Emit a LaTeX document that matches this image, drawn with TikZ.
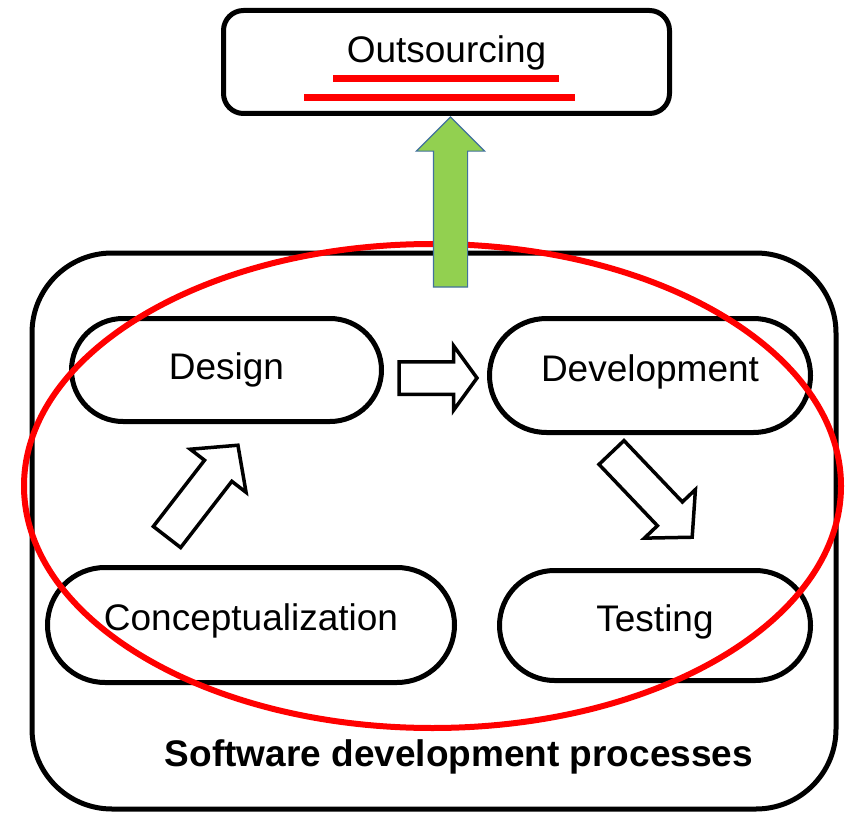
\documentclass[tikz,border=0pt]{standalone}
\usepackage{fontspec}
\setmainfont{Liberation Sans}
\usetikzlibrary{shapes.arrows,calc}

\definecolor{arrowgreen}{HTML}{92D050}
\definecolor{arrowblue}{HTML}{41719C}

\begin{document}
\begin{tikzpicture}[x=1pt,y=-1pt,font=\fontsize{37}{44}\selectfont]
	\useasboundingbox (0,0) rectangle (846,813);

	% outer frame and its caption
	\node[draw,line width=5pt,rounded corners=80pt,minimum width=804pt,minimum height=556pt] (sdp) at (434,531) {};
	\node[font=\fontsize{37}{44}\selectfont\bfseries,anchor=base] (sdplabel) at (459,766) {Software development processes};

	\begin{scope}[every node/.style={rectangle,draw,line width=5pt,text height=26.6pt,text depth=15pt}]
		\node[minimum width=310pt,minimum height=103pt,rounded corners=51.5pt,text depth=7pt] (design) at (226.5,370) {Design};
		\node[minimum width=321pt,minimum height=114pt,rounded corners=57pt] (devel) at (650,375.5) {Development};
		\node[minimum width=407pt,minimum height=115pt,rounded corners=57.5pt] (concept) at (251,625) {Conceptualization};
		\node[minimum width=311pt,minimum height=110pt,rounded corners=55pt] (testing) at (655,625.5) {Testing};
	\end{scope}

	\begin{scope}[every node/.style={single arrow,draw,fill=white,line width=3.5pt,outer sep=0pt,inner xsep=0pt,inner ysep=15.5pt,single arrow head extend=18pt,single arrow tip angle=95,anchor=tail}]
		\node[minimum height=78pt,inner ysep=14.5pt,single arrow head extend=16pt,single arrow tip angle=108] (a1) at ($(design.east)+(15,8)$) {};
		\node[minimum height=116pt,rotate=52.3] (a2) at ($(concept.north)+(-84,-28)$) {};
		\node[minimum height=117pt,rotate=-46.4] (a3) at ($(devel.south)+(-38.5,17.5)$) {};
	\end{scope}

	% outsourcing box
	\node[draw,line width=5pt,rounded corners=20pt,minimum width=446pt,minimum height=103pt,text height=26.6pt,text depth=24.6pt] (out) at (446.5,62) {Outsourcing};
	\draw[red,line width=7pt] ([shift={(-113.5,17)}]out.center) -- ([shift={(112.5,17)}]out.center);
	\draw[red,line width=7pt] ([shift={(-142.5,36)}]out.center) -- ([shift={(128.5,36)}]out.center);

	% red ring round the processes
	\draw[red,line width=6pt] (432.5,486) ellipse [x radius=408.5,y radius=242];

	\node[single arrow,draw=arrowblue,fill=arrowgreen,line width=1.2pt,outer sep=0pt,inner xsep=0pt,inner ysep=16.5pt,single arrow head extend=17pt,single arrow tip angle=90,minimum height=170pt,rotate=90,anchor=tip] (up) at ($(out.south)+(4,1)$) {};
\end{tikzpicture}
\end{document}
